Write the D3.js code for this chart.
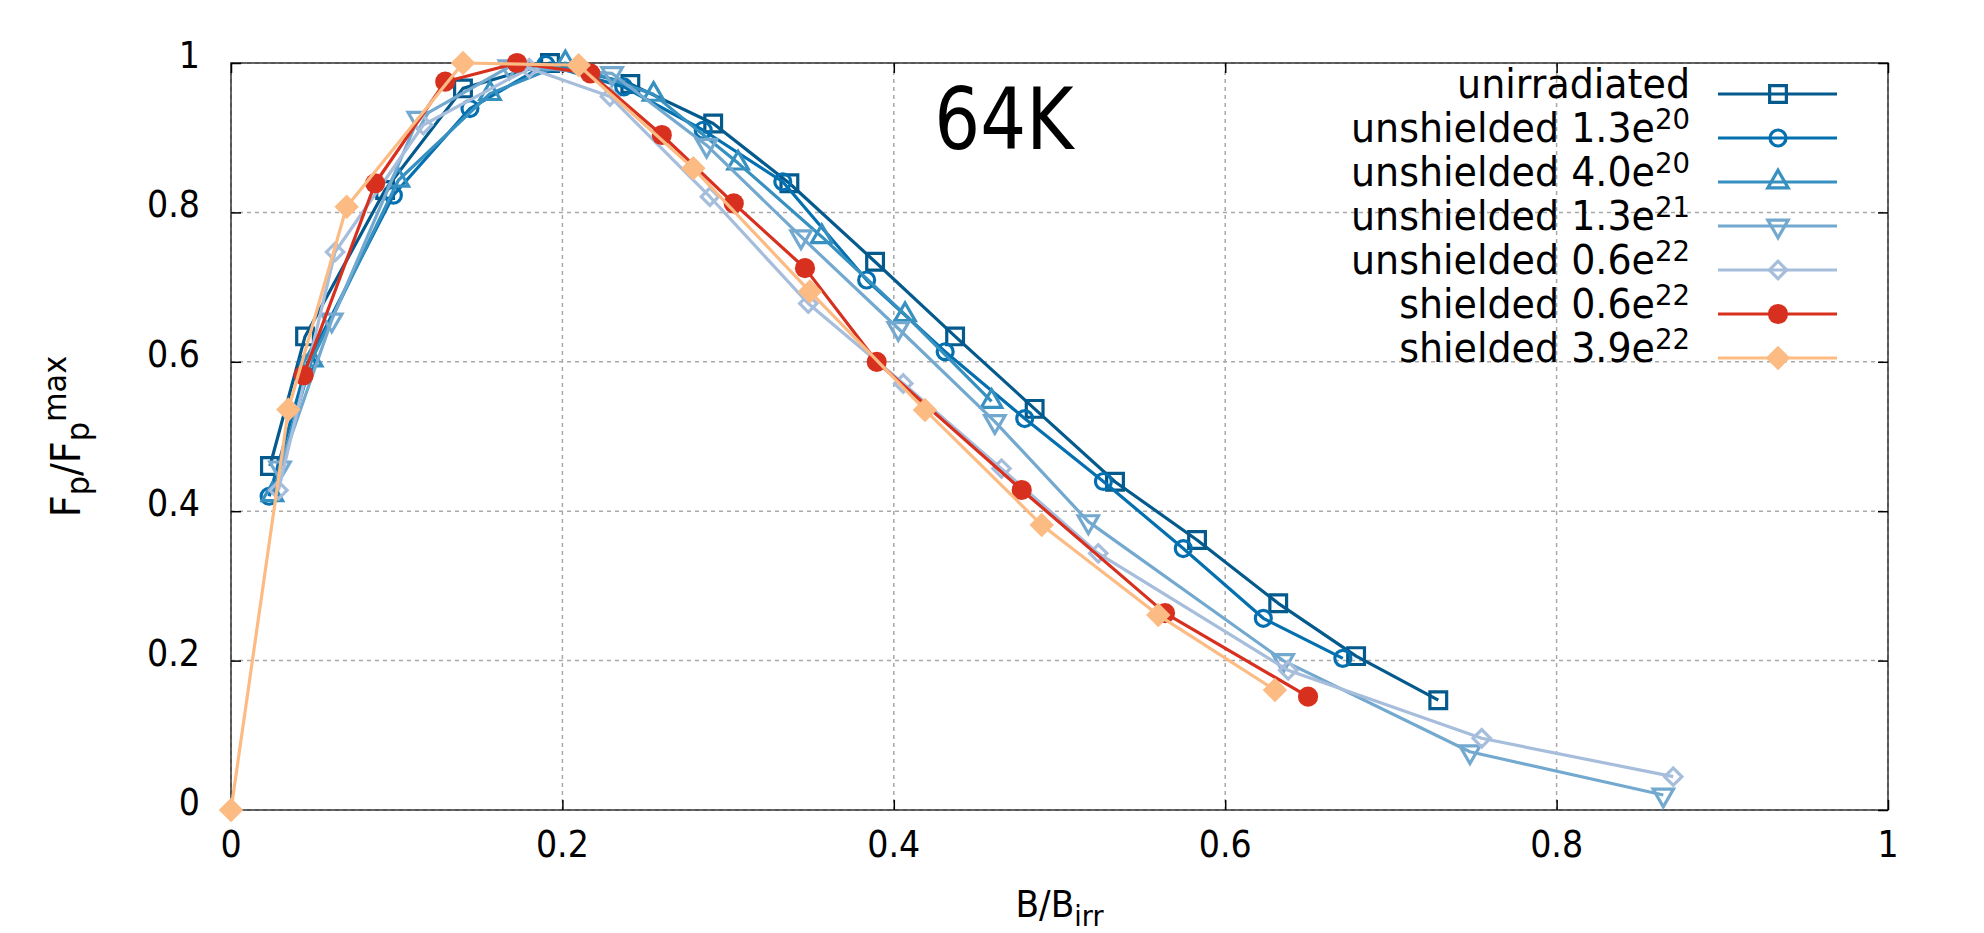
<!DOCTYPE html>
<html><head><meta charset="utf-8">
<script src="https://cdn.jsdelivr.net/npm/d3@7"></script>
<style>
body{margin:0;background:#fff;}
text{font-family:"DejaVu Sans",sans-serif;fill:#000;}
</style>
</head><body>
<svg id="chart" width="1984" height="933"></svg>
<script>
// ---------- data ----------
const xTicks = [0, 0.2, 0.4, 0.6, 0.8, 1];
const yTicks = [0, 0.2, 0.4, 0.6, 0.8, 1];
const xTickLabels = ["0", "0.2", "0.4", "0.6", "0.8", "1"];
const yTickLabels = ["0", "0.2", "0.4", "0.6", "0.8", "1"];
const title = "64K";

const seriesLabels = ["unirradiated", "unshielded 1.3e|20", "unshielded 4.0e|20", "unshielded 1.3e|21",
  "unshielded 0.6e|22", "shielded 0.6e|22", "shielded 3.9e|22"];

const unirradiatedX = [0.0235, 0.0447, 0.093, 0.140, 0.1925, 0.241, 0.291, 0.337, 0.3887, 0.437, 0.485, 0.5335, 0.583, 0.632, 0.679, 0.7286];
const unirradiatedY = [0.4605, 0.634, 0.83, 0.966, 1.0, 0.972, 0.919, 0.839, 0.734, 0.634, 0.537, 0.4395, 0.3614, 0.2767, 0.206, 0.147];

const unsh13e20X = [0.023, 0.046, 0.098, 0.1442, 0.19, 0.237, 0.285, 0.333, 0.3836, 0.431, 0.479, 0.5265, 0.5747, 0.623, 0.671];
const unsh13e20Y = [0.42, 0.598, 0.823, 0.939, 0.998, 0.968, 0.91, 0.841, 0.7095, 0.6135, 0.524, 0.4398, 0.35, 0.2566, 0.203];

const unsh40e20X = [0.025, 0.0487, 0.101, 0.1563, 0.2018, 0.255, 0.306, 0.3565, 0.4068, 0.459];
const unsh40e20Y = [0.422, 0.6024, 0.843, 0.959, 1.0, 0.958, 0.866, 0.7675, 0.663, 0.547];

const unsh13e21X = [0.0296, 0.0608, 0.113, 0.168, 0.23, 0.287, 0.344, 0.4027, 0.461, 0.5174, 0.635, 0.7477, 0.8644];
const unsh13e21Y = [0.458, 0.656, 0.926, 0.995, 0.986, 0.89, 0.7675, 0.6446, 0.52, 0.386, 0.2, 0.078, 0.02];

const unsh06e22X = [0.0286, 0.0628, 0.116, 0.18, 0.2287, 0.289, 0.3484, 0.4057, 0.465, 0.5234, 0.638, 0.7548, 0.8704];
const unsh06e22Y = [0.428, 0.747, 0.917, 0.993, 0.955, 0.821, 0.678, 0.571, 0.457, 0.3436, 0.187, 0.096, 0.0446];

const sh06e22X = [0.0438, 0.087, 0.1293, 0.1726, 0.2168, 0.260, 0.3034, 0.3464, 0.3897, 0.4772, 0.5637, 0.650];
const sh06e22Y = [0.582, 0.839, 0.975, 1.0, 0.986, 0.9036, 0.812, 0.7254, 0.600, 0.4284, 0.2636, 0.1517];

const sh39e22X = [0, 0.0346, 0.0698, 0.140, 0.2098, 0.279, 0.3494, 0.4188, 0.4893, 0.5596, 0.630];
const sh39e22Y = [0, 0.536, 0.8077, 1.0, 0.997, 0.859, 0.694, 0.5355, 0.3815, 0.261, 0.1606];

// ---------- styles ----------
const seriesXs = [unirradiatedX, unsh13e20X, unsh40e20X, unsh13e21X, unsh06e22X, sh06e22X, sh39e22X];
const seriesYs = [unirradiatedY, unsh13e20Y, unsh40e20Y, unsh13e21Y, unsh06e22Y, sh06e22Y, sh39e22Y];
const colors = ["#045a8d", "#0570b0", "#3690c0", "#74a9cf", "#a6bddb", "#d7301f", "#fdbb84"];
const symTypes = [d3.symbolSquare, d3.symbolCircle, d3.symbolTriangle, d3.symbolTriangle, d3.symbolSquare, d3.symbolCircle, d3.symbolSquare];
const symSizes = [280, 200, 180, 180, 150, 320, 300];
const symRot = [0, 0, 0, 180, 45, 0, 45];
const filled = [false, false, false, false, false, true, true];

const series = seriesLabels.map((lab, i) => ({
  label: lab,
  pts: seriesXs[i].map((x, j) => ({x: x, y: seriesYs[i][j]})),
  color: colors[i], sym: symTypes[i], size: symSizes[i], rot: symRot[i], filled: filled[i]
}));

// ---------- layout ----------
const L = 231, R = 1888, T = 63, B = 810;
const svg = d3.select("#chart");
const x = d3.scaleLinear().domain([0, 1]).range([L, R]);
const y = d3.scaleLinear().domain([0, 1]).range([B, T]);

// text helper: horizontally scaled text
function txt(g, px, py, anchor, size, sx) {
  return g.append("text").attr("transform", `translate(${px},${py}) scale(${sx},1)`)
    .attr("text-anchor", anchor).attr("font-size", size);
}

// grid
const grid = svg.append("g");
grid.selectAll("line.gx").data(xTicks).join("line")
  .attr("x1", d => x(d)).attr("x2", d => x(d)).attr("y1", T).attr("y2", B)
  .attr("stroke", "#a8a8a8").attr("stroke-width", 1.5).attr("stroke-dasharray", "4,4");
grid.selectAll("line.gy").data(yTicks).join("line")
  .attr("y1", d => y(d)).attr("y2", d => y(d)).attr("x1", L).attr("x2", R)
  .attr("stroke", "#a8a8a8").attr("stroke-width", 1.5).attr("stroke-dasharray", "4,4");

// border
svg.append("rect").attr("x", L).attr("y", T).attr("width", R - L).attr("height", B - T)
  .attr("fill", "none").attr("stroke", "#333").attr("stroke-width", 1.5);

// ticks (inward) on all four sides
function tickLines(axisGen, tr) {
  const g = svg.append("g").attr("transform", tr).call(axisGen);
  g.select(".domain").remove();
  g.selectAll("text").remove();
  g.selectAll("line").attr("stroke", "#000").attr("stroke-width", 1.5);
}
tickLines(d3.axisBottom(x).tickValues(xTicks).tickSize(-10), `translate(0,${B})`);
tickLines(d3.axisTop(x).tickValues(xTicks).tickSize(-10), `translate(0,${T})`);
tickLines(d3.axisLeft(y).tickValues(yTicks).tickSize(-10), `translate(${L},0)`);
tickLines(d3.axisRight(y).tickValues(yTicks).tickSize(-10), `translate(${R},0)`);

// tick labels
const tfs = 37, tsx = 0.9;
const gtl = svg.append("g");
xTicks.forEach((v, i) => txt(gtl, x(v), 857, "middle", tfs, tsx).text(xTickLabels[i]));
yTicks.forEach((v, i) => txt(gtl, 200, y(v) + 5, "end", tfs, tsx).text(yTickLabels[i]));

// axis titles
const xl = txt(svg, (L + R) / 2, 917, "middle", 37, 0.93);
xl.append("tspan").text("B/B");
xl.append("tspan").attr("font-size", 29).attr("dy", 9).text("irr");

const yl = svg.append("text").attr("transform", `translate(80,${(T + B) / 2}) rotate(-90) scale(0.95,1)`)
  .attr("text-anchor", "middle").attr("font-size", 40);
yl.append("tspan").text("F");
yl.append("tspan").attr("font-size", 32).attr("dy", 9).text("p");
yl.append("tspan").attr("dy", -9).text("/F");
yl.append("tspan").attr("font-size", 32).attr("dy", 9).text("p");
yl.append("tspan").attr("font-size", 32).attr("dy", -23).text("max");

// title
txt(svg, 1004, 149, "middle", 86, 0.84).text(title);

// series
const line = d3.line().x(d => x(d.x)).y(d => y(d.y));
const gS = svg.append("g");
series.forEach(s => {
  gS.append("path").datum(s.pts).attr("d", line).attr("fill", "none")
    .attr("stroke", s.color).attr("stroke-width", 3.2).attr("stroke-linejoin", "round");
  const sym = d3.symbol().type(s.sym).size(s.size);
  gS.selectAll(null).data(s.pts).join("path")
    .attr("d", sym)
    .attr("transform", d => `translate(${x(d.x)},${y(d.y)}) rotate(${s.rot})`)
    .attr("fill", s.filled ? s.color : "none")
    .attr("stroke", s.color).attr("stroke-width", s.filled ? 0 : 3.2);
});

// legend
const lg = svg.append("g");
series.forEach((s, i) => {
  const ly = 94 + i * 44;
  const parts = s.label.split("|");
  const t = txt(lg, 1690, ly + 4, "end", 40, 0.95);
  t.append("tspan").text(parts[0]);
  if (parts[1]) t.append("tspan").attr("font-size", 29).attr("dy", -13).text(parts[1]);
  lg.append("line").attr("x1", 1718).attr("x2", 1837).attr("y1", ly).attr("y2", ly)
    .attr("stroke", s.color).attr("stroke-width", 3.2);
  lg.append("path").attr("d", d3.symbol().type(s.sym).size(s.size)())
    .attr("transform", `translate(1778,${ly}) rotate(${s.rot})`)
    .attr("fill", s.filled ? s.color : "none")
    .attr("stroke", s.color).attr("stroke-width", s.filled ? 0 : 3.2);
});
</script>
</body></html>
